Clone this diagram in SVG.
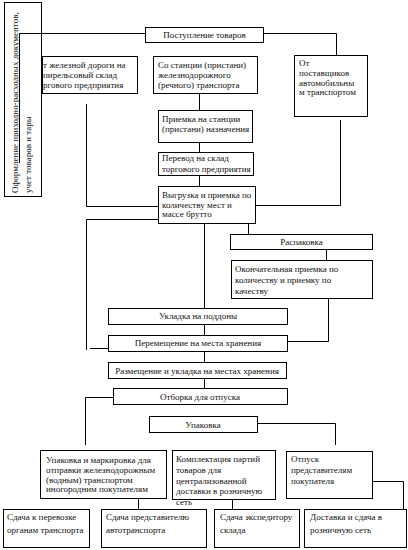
<svg xmlns="http://www.w3.org/2000/svg" width="408" height="550" viewBox="0 0 408 550">
<style>
.b{fill:#fff;stroke:#000;stroke-width:1}
.n{fill:none;stroke:#000;stroke-width:1}
.c{fill:none;stroke:#000;stroke-width:1}
text{font-family:"Liberation Serif","Times New Roman",serif;font-size:9px;fill:#111}
.m{text-anchor:middle}
</style>
<rect width="408" height="550" fill="#fff"/>
<g id="connectors">
<path class="c" d="M19.5,163 V33.5 H145"/>
<path class="c" d="M264,33.5 H336.5 V56"/>
<path class="c" d="M199.5,94 V110 M199.5,143 V152 M199.5,175 V186"/>
<path class="c" d="M86.5,104 V206.5 H158"/>
<path class="c" d="M158,219.5 H86.5 V350"/>
<path class="c" d="M340.5,120 V205.5 H255"/>
<path class="c" d="M204.5,223 V308"/>
<path class="c" d="M248.5,223 V234"/>
<path class="c" d="M326.5,250 V260"/>
<path class="c" d="M328.5,299 V341.5 H288"/>
<path class="c" d="M90,348.5 H108"/>
<path class="c" d="M204.5,325 V335 M204.5,352 V362 M204.5,379 V388"/>
<path class="c" d="M113,397.5 H85.5 V445"/>
<path class="c" d="M258,423.5 H335.5 V445"/>
<path class="c" d="M373,481.5 H403.5 V509"/>
<path class="c" d="M138.5,499 V509"/>
<path class="c" d="M232.5,500 V509"/>
</g>
<g id="n_a"><rect class="b" x="42.5" y="56.5" width="95" height="37"/>
<text x="43" y="68">т железной дороги на</text><text x="43" y="78">пирельсовый склад</text><text x="43" y="88">ргового предприятия</text></g>
<g id="n_left"><rect class="n" x="4.5" y="2.5" width="37" height="194"/>
<text transform="translate(18,193) rotate(-90)">Оформление приходно-расходных документов,</text>
<text transform="translate(31,193) rotate(-90)">учет товаров и тары</text></g>
<g id="n_post"><rect class="b" x="145.5" y="27.5" width="118" height="15"/><text class="m" x="204.5" y="38">Поступление товаров</text></g>
<g id="n_b"><rect class="b" x="153.5" y="56.5" width="104" height="37"/>
<text x="158" y="68">Со станции (пристани)</text><text x="158" y="78">железнодорожного</text><text x="158" y="88">(речного) транспорта</text></g>
<g id="n_c"><rect class="b" x="294.5" y="55.5" width="73" height="61"/>
<text x="299" y="66">От</text><text x="299" y="76">поставщиков</text><text x="299" y="86">автомобильны</text><text x="299" y="95">м транспортом</text></g>
<g id="n_priem"><rect class="b" x="158.5" y="110.5" width="94" height="32"/>
<text x="162" y="122">Приемка на станции</text><text x="162" y="132">(пристани) назначения</text></g>
<g id="n_perevod"><rect class="b" x="158.5" y="152.5" width="95" height="23"/>
<text x="162" y="161">Перевод на склад</text><text x="162" y="172">торгового предприятия</text></g>
<g id="n_vygr"><rect class="b" x="158.5" y="186.5" width="97" height="37"/>
<text x="162" y="198">Выгрузка и приемка по</text><text x="162" y="208">количеству мест и</text><text x="162" y="217">массе брутто</text></g>
<g id="n_rasp"><rect class="b" x="230.5" y="234.5" width="142" height="15"/><text class="m" x="301.5" y="245">Распаковка</text></g>
<g id="n_okon"><rect class="b" x="231.5" y="260.5" width="141" height="38"/>
<text x="235" y="272">Окончательная приемка по</text><text x="235" y="283">количеству и приемку по</text><text x="235" y="294">качеству</text></g>
<g id="n_ukl"><rect class="b" x="108.5" y="308.5" width="179" height="16"/><text class="m" x="198" y="319">Укладка на поддоны</text></g>
<g id="n_perem"><rect class="b" x="108.5" y="335.5" width="179" height="16"/><text class="m" x="198" y="346">Перемещение на места хранения</text></g>
<g id="n_razm"><rect class="b" x="108.5" y="362.5" width="178" height="16"/><text class="m" x="197" y="374">Размещение и укладка на местах хранения</text></g>
<g id="n_otb"><rect class="b" x="113.5" y="388.5" width="174" height="16"/><text class="m" x="200" y="400">Отборка для отпуска</text></g>
<g id="n_upak"><rect class="b" x="149.5" y="416.5" width="108" height="16"/><text class="m" x="203" y="428">Упаковка</text></g>
<g id="n_mark"><rect class="b" x="40.5" y="450.5" width="126" height="48"/>
<text x="46" y="463">Упаковка и маркировка для</text><text x="46" y="473">отправки железнодорожным</text><text x="46" y="483">(водным) транспортом</text><text x="46" y="492">иногородним покупателям</text></g>
<g id="n_kompl"><rect class="b" x="172.5" y="450.5" width="103" height="49"/>
<text x="176" y="462">Комплектация партий</text><text x="176" y="473">товаров для</text><text x="176" y="484">централизованной</text><text x="176" y="494">доставки в розничную</text><text x="176" y="505">сеть</text></g>
<g id="n_otp"><rect class="b" x="286.5" y="451.5" width="86" height="47"/>
<text x="291" y="462">Отпуск</text><text x="291" y="473">представителям</text><text x="291" y="484">покупателя</text></g>
<g id="n_s1"><rect class="b" x="3.5" y="509.5" width="86" height="38"/><text x="7" y="520">Сдача к перевозке</text><text x="7" y="533">органам транспорта</text></g>
<g id="n_s2"><rect class="b" x="101.5" y="509.5" width="105" height="38"/><text x="106" y="520">Сдача представителю</text><text x="106" y="533">автотранспорта</text></g>
<g id="n_s3"><rect class="b" x="214.5" y="509.5" width="85" height="38"/><text x="220" y="520">Сдача экспедитору</text><text x="220" y="533">склада</text></g>
<g id="n_s4"><rect class="b" x="304.5" y="509.5" width="102" height="38"/><text x="310" y="520">Доставка и сдача в</text><text x="310" y="533">розничную сеть</text></g>
</svg>
